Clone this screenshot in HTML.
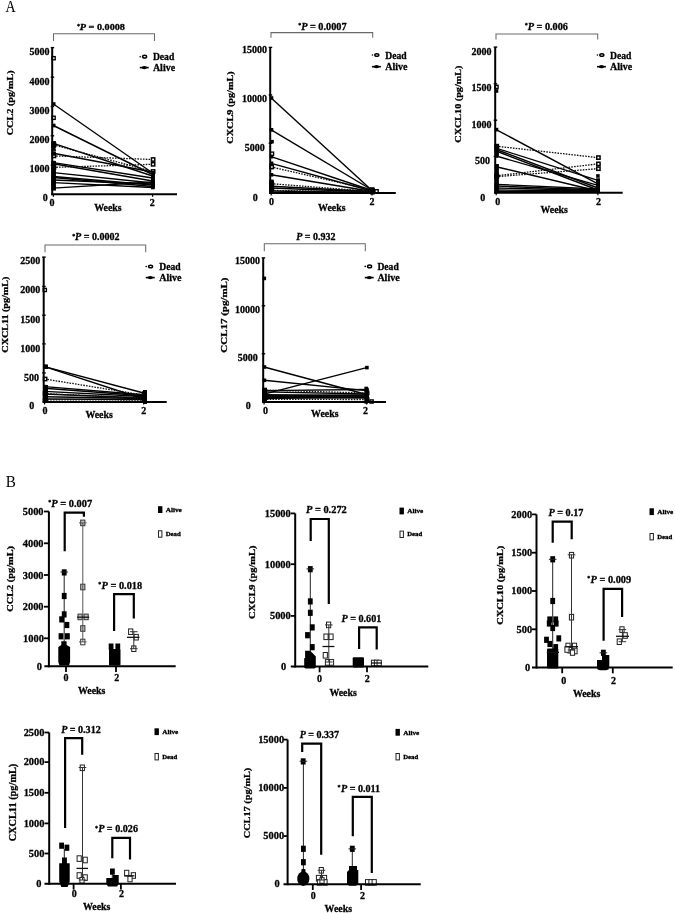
<!DOCTYPE html>
<html><head><meta charset="utf-8"><title>Figure</title>
<style>html,body{margin:0;padding:0;background:#fff;width:675px;height:913px;overflow:hidden;} svg text{font-family:'Liberation Serif',serif;} svg text[font-weight=bold]{stroke:#000;stroke-width:0.28px;}</style>
</head><body>
<svg width="675" height="913" viewBox="0 0 675 913" style="display:block;filter:grayscale(1) blur(0.3px);">
<rect width="675" height="913" fill="#fff"/>
<text x="5.6" y="11.8" font-size="15.69" font-weight="normal" font-style="normal" fill="#000" textLength="10.16" lengthAdjust="spacingAndGlyphs">A</text>
<text x="5.82" y="486.8" font-size="16.77" font-weight="normal" font-style="normal" fill="#000" textLength="10.12" lengthAdjust="spacingAndGlyphs">B</text>
<line x1="53.4" y1="104" x2="152.6" y2="173" stroke="#000" stroke-width="1.4" stroke-linecap="butt"/>
<line x1="53.4" y1="125.5" x2="152.6" y2="174.5" stroke="#000" stroke-width="1.4" stroke-linecap="butt"/>
<line x1="53.4" y1="143.3" x2="152.6" y2="176" stroke="#000" stroke-width="1.4" stroke-linecap="butt"/>
<line x1="53.4" y1="153.3" x2="152.6" y2="172" stroke="#000" stroke-width="1.4" stroke-linecap="butt"/>
<line x1="53.4" y1="162.6" x2="152.6" y2="178" stroke="#000" stroke-width="1.4" stroke-linecap="butt"/>
<line x1="53.4" y1="163.7" x2="152.6" y2="181" stroke="#000" stroke-width="1.4" stroke-linecap="butt"/>
<line x1="53.4" y1="172.6" x2="152.6" y2="183" stroke="#000" stroke-width="1.4" stroke-linecap="butt"/>
<line x1="53.4" y1="176.5" x2="152.6" y2="185" stroke="#000" stroke-width="1.4" stroke-linecap="butt"/>
<line x1="53.4" y1="177.5" x2="152.6" y2="186.5" stroke="#000" stroke-width="1.4" stroke-linecap="butt"/>
<line x1="53.4" y1="180" x2="152.6" y2="184" stroke="#000" stroke-width="1.4" stroke-linecap="butt"/>
<line x1="53.4" y1="182.6" x2="152.6" y2="187.5" stroke="#000" stroke-width="1.4" stroke-linecap="butt"/>
<line x1="53.4" y1="188.1" x2="152.6" y2="182" stroke="#000" stroke-width="1.4" stroke-linecap="butt"/>
<line x1="53.4" y1="144.8" x2="152.6" y2="171.5" stroke="#111" stroke-width="1.3" stroke-dasharray="1.6,1.2" stroke-linecap="butt"/>
<line x1="53.4" y1="155.9" x2="152.6" y2="159.5" stroke="#111" stroke-width="1.3" stroke-dasharray="1.6,1.2" stroke-linecap="butt"/>
<line x1="53.4" y1="167.4" x2="152.6" y2="164.3" stroke="#111" stroke-width="1.3" stroke-dasharray="1.6,1.2" stroke-linecap="butt"/>
<rect x="51.9" y="102.2" width="3.6" height="3.6" fill="#000"/>
<rect x="151.1" y="171.2" width="3.6" height="3.6" fill="#000"/>
<rect x="51.9" y="123.7" width="3.6" height="3.6" fill="#000"/>
<rect x="151.1" y="172.7" width="3.6" height="3.6" fill="#000"/>
<rect x="51.9" y="141.5" width="3.6" height="3.6" fill="#000"/>
<rect x="151.1" y="174.2" width="3.6" height="3.6" fill="#000"/>
<rect x="51.9" y="151.5" width="3.6" height="3.6" fill="#000"/>
<rect x="151.1" y="170.2" width="3.6" height="3.6" fill="#000"/>
<rect x="51.9" y="160.8" width="3.6" height="3.6" fill="#000"/>
<rect x="151.1" y="176.2" width="3.6" height="3.6" fill="#000"/>
<rect x="51.9" y="161.9" width="3.6" height="3.6" fill="#000"/>
<rect x="151.1" y="179.2" width="3.6" height="3.6" fill="#000"/>
<rect x="51.9" y="170.8" width="3.6" height="3.6" fill="#000"/>
<rect x="151.1" y="181.2" width="3.6" height="3.6" fill="#000"/>
<rect x="51.9" y="174.7" width="3.6" height="3.6" fill="#000"/>
<rect x="151.1" y="183.2" width="3.6" height="3.6" fill="#000"/>
<rect x="51.9" y="175.7" width="3.6" height="3.6" fill="#000"/>
<rect x="151.1" y="184.7" width="3.6" height="3.6" fill="#000"/>
<rect x="51.9" y="178.2" width="3.6" height="3.6" fill="#000"/>
<rect x="151.1" y="182.2" width="3.6" height="3.6" fill="#000"/>
<rect x="51.9" y="180.8" width="3.6" height="3.6" fill="#000"/>
<rect x="151.1" y="185.7" width="3.6" height="3.6" fill="#000"/>
<rect x="51.9" y="186.3" width="3.6" height="3.6" fill="#000"/>
<rect x="151.1" y="180.2" width="3.6" height="3.6" fill="#000"/>
<rect x="52.25" y="143.15" width="3.3" height="3.3" fill="#fff" stroke="#000" stroke-width="1.5"/>
<rect x="151.45" y="169.85" width="3.3" height="3.3" fill="#fff" stroke="#000" stroke-width="1.5"/>
<rect x="52.25" y="154.25" width="3.3" height="3.3" fill="#fff" stroke="#000" stroke-width="1.5"/>
<rect x="151.45" y="157.85" width="3.3" height="3.3" fill="#fff" stroke="#000" stroke-width="1.5"/>
<rect x="52.25" y="165.75" width="3.3" height="3.3" fill="#fff" stroke="#000" stroke-width="1.5"/>
<rect x="151.45" y="162.65" width="3.3" height="3.3" fill="#fff" stroke="#000" stroke-width="1.5"/>
<rect x="52" y="56.6" width="3.2" height="3.2" fill="#fff" stroke="#000" stroke-width="1.35"/>
<rect x="52" y="116.2" width="3.2" height="3.2" fill="#fff" stroke="#000" stroke-width="1.35"/>
<rect x="51.8" y="146.2" width="3.6" height="3.6" fill="#000"/>
<rect x="51.8" y="183.2" width="3.6" height="3.6" fill="#000"/>
<rect x="51.3" y="141.1" width="4.6" height="7.1" fill="#000"/>
<rect x="51.3" y="149.2" width="4.6" height="1.7" fill="#000"/>
<rect x="51.3" y="151.6" width="4.6" height="4.1" fill="#000"/>
<rect x="51.3" y="161.1" width="4.6" height="29.5" fill="#000"/>
<rect x="151" y="171" width="3.7" height="17" fill="#000"/>
<line x1="52.2" y1="47.6" x2="52.2" y2="195.2" stroke="#000" stroke-width="2" stroke-linecap="butt"/>
<line x1="51.2" y1="194.2" x2="177" y2="194.2" stroke="#000" stroke-width="2" stroke-linecap="butt"/>
<line x1="50.7" y1="47.6" x2="54.2" y2="47.6" stroke="#000" stroke-width="1.4" stroke-linecap="butt"/>
<line x1="50.7" y1="77.2" x2="54.2" y2="77.2" stroke="#000" stroke-width="1.4" stroke-linecap="butt"/>
<line x1="50.7" y1="106.5" x2="54.2" y2="106.5" stroke="#000" stroke-width="1.4" stroke-linecap="butt"/>
<line x1="50.7" y1="135.8" x2="54.2" y2="135.8" stroke="#000" stroke-width="1.4" stroke-linecap="butt"/>
<line x1="50.7" y1="165.1" x2="54.2" y2="165.1" stroke="#000" stroke-width="1.4" stroke-linecap="butt"/>
<line x1="53.4" y1="194.2" x2="53.4" y2="196.7" stroke="#000" stroke-width="1.2" stroke-linecap="butt"/>
<line x1="152.6" y1="194.2" x2="152.6" y2="196.7" stroke="#000" stroke-width="1.2" stroke-linecap="butt"/>
<text x="29.45" y="55.05" font-size="10" font-weight="bold" font-style="normal" fill="#000">5000</text>
<text x="29.45" y="84.55" font-size="10" font-weight="bold" font-style="normal" fill="#000">4000</text>
<text x="29.45" y="114.05" font-size="10" font-weight="bold" font-style="normal" fill="#000">3000</text>
<text x="29.45" y="143.12" font-size="10" font-weight="bold" font-style="normal" fill="#000">2000</text>
<text x="29.45" y="172.15" font-size="10" font-weight="bold" font-style="normal" fill="#000">1000</text>
<text x="42.65" y="201.12" font-size="10" font-weight="bold" font-style="normal" fill="#000">0</text>
<text x="49.4" y="205.82" font-size="10" font-weight="bold" font-style="normal" fill="#000">0</text>
<text x="149.8" y="206.12" font-size="10" font-weight="bold" font-style="normal" fill="#000">2</text>
<text x="94.2" y="211.47" font-size="10" font-weight="bold" font-style="normal" fill="#000" textLength="27.43" lengthAdjust="spacingAndGlyphs">Weeks</text>
<text x="0" y="0" font-size="8.31" font-weight="bold" font-style="normal" fill="#000" textLength="64.93" lengthAdjust="spacingAndGlyphs" transform="translate(13.32,135.26) rotate(-90)">CCL2 (pg/mL)</text>
<polyline points="53.5,40.9 53.5,33.7 154.5,33.7 154.5,40.9" fill="none" stroke="#6a6a6a" stroke-width="1.05" stroke-linejoin="miter"/>
<text x="79.85" y="30.28" font-size="8.86" font-weight="bold" font-style="normal" fill="#000" textLength="45.11" lengthAdjust="spacingAndGlyphs"><tspan font-style="italic">P</tspan> = 0.0008</text>
<text x="77.05" y="27.97" font-size="6" font-weight="bold" font-style="normal" fill="#000">*</text>
<circle cx="140.2" cy="56.7" r="0.8" fill="#000"/>
<ellipse cx="144.6" cy="56.7" rx="2.0" ry="1.35" fill="#fff" stroke="#000" stroke-width="1.5"/>
<line x1="139.8" y1="67.6" x2="148.7" y2="67.6" stroke="#000" stroke-width="1.6" stroke-linecap="butt"/>
<ellipse cx="144.3" cy="67.6" rx="2.6" ry="1.6" fill="#000"/>
<text x="152.9" y="60.2" font-size="10" font-weight="bold" font-style="normal" fill="#000" textLength="21.37" lengthAdjust="spacingAndGlyphs">Dead</text>
<text x="152.9" y="71.1" font-size="10" font-weight="bold" font-style="normal" fill="#000" textLength="22.22" lengthAdjust="spacingAndGlyphs">Alive</text>
<line x1="271.2" y1="98" x2="372" y2="190.5" stroke="#000" stroke-width="1.4" stroke-linecap="butt"/>
<line x1="271.2" y1="129.8" x2="372" y2="190" stroke="#000" stroke-width="1.4" stroke-linecap="butt"/>
<line x1="271.2" y1="156.7" x2="372" y2="190.5" stroke="#000" stroke-width="1.4" stroke-linecap="butt"/>
<line x1="271.2" y1="163.3" x2="372" y2="191" stroke="#000" stroke-width="1.4" stroke-linecap="butt"/>
<line x1="271.2" y1="174.8" x2="372" y2="191.5" stroke="#000" stroke-width="1.4" stroke-linecap="butt"/>
<line x1="271.2" y1="186.3" x2="372" y2="191.5" stroke="#000" stroke-width="1.4" stroke-linecap="butt"/>
<line x1="271.2" y1="188" x2="372" y2="192" stroke="#000" stroke-width="1.4" stroke-linecap="butt"/>
<line x1="271.2" y1="191" x2="372" y2="192.5" stroke="#000" stroke-width="1.4" stroke-linecap="butt"/>
<line x1="271.2" y1="167" x2="372" y2="190" stroke="#111" stroke-width="1.3" stroke-dasharray="1.6,1.2" stroke-linecap="butt"/>
<line x1="271.2" y1="183.7" x2="372" y2="191.5" stroke="#111" stroke-width="1.3" stroke-dasharray="1.6,1.2" stroke-linecap="butt"/>
<line x1="271.2" y1="190.4" x2="372" y2="192" stroke="#111" stroke-width="1.3" stroke-dasharray="1.6,1.2" stroke-linecap="butt"/>
<rect x="269.7" y="96.2" width="3.6" height="3.6" fill="#000"/>
<rect x="370.5" y="188.7" width="3.6" height="3.6" fill="#000"/>
<rect x="269.7" y="128" width="3.6" height="3.6" fill="#000"/>
<rect x="370.5" y="188.2" width="3.6" height="3.6" fill="#000"/>
<rect x="269.7" y="154.9" width="3.6" height="3.6" fill="#000"/>
<rect x="370.5" y="188.7" width="3.6" height="3.6" fill="#000"/>
<rect x="269.7" y="161.5" width="3.6" height="3.6" fill="#000"/>
<rect x="370.5" y="189.2" width="3.6" height="3.6" fill="#000"/>
<rect x="269.7" y="173" width="3.6" height="3.6" fill="#000"/>
<rect x="370.5" y="189.7" width="3.6" height="3.6" fill="#000"/>
<rect x="269.7" y="184.5" width="3.6" height="3.6" fill="#000"/>
<rect x="370.5" y="189.7" width="3.6" height="3.6" fill="#000"/>
<rect x="269.7" y="186.2" width="3.6" height="3.6" fill="#000"/>
<rect x="370.5" y="190.2" width="3.6" height="3.6" fill="#000"/>
<rect x="269.7" y="189.2" width="3.6" height="3.6" fill="#000"/>
<rect x="370.5" y="190.7" width="3.6" height="3.6" fill="#000"/>
<rect x="270.05" y="165.35" width="3.3" height="3.3" fill="#fff" stroke="#000" stroke-width="1.5"/>
<rect x="370.85" y="188.35" width="3.3" height="3.3" fill="#fff" stroke="#000" stroke-width="1.5"/>
<rect x="270.05" y="182.05" width="3.3" height="3.3" fill="#fff" stroke="#000" stroke-width="1.5"/>
<rect x="370.85" y="189.85" width="3.3" height="3.3" fill="#fff" stroke="#000" stroke-width="1.5"/>
<rect x="270.05" y="188.75" width="3.3" height="3.3" fill="#fff" stroke="#000" stroke-width="1.5"/>
<rect x="370.85" y="190.35" width="3.3" height="3.3" fill="#fff" stroke="#000" stroke-width="1.5"/>
<rect x="270.2" y="139.9" width="3.6" height="3.6" fill="#000"/>
<rect x="270.4" y="152.1" width="3.2" height="3.2" fill="#fff" stroke="#000" stroke-width="1.35"/>
<rect x="375" y="189.7" width="3.2" height="3.2" fill="#fff" stroke="#000" stroke-width="1.35"/>
<rect x="269.3" y="179.6" width="4.5" height="13.4" fill="#000"/>
<rect x="369.8" y="187.3" width="4.2" height="5.6" fill="#000"/>
<line x1="270.2" y1="47.4" x2="270.2" y2="194" stroke="#000" stroke-width="2" stroke-linecap="butt"/>
<line x1="269.2" y1="193" x2="395.8" y2="193" stroke="#000" stroke-width="2" stroke-linecap="butt"/>
<line x1="268.7" y1="47.4" x2="272.2" y2="47.4" stroke="#000" stroke-width="1.4" stroke-linecap="butt"/>
<line x1="268.7" y1="95" x2="272.2" y2="95" stroke="#000" stroke-width="1.4" stroke-linecap="butt"/>
<line x1="268.7" y1="143.3" x2="272.2" y2="143.3" stroke="#000" stroke-width="1.4" stroke-linecap="butt"/>
<line x1="271.2" y1="193" x2="271.2" y2="195.5" stroke="#000" stroke-width="1.2" stroke-linecap="butt"/>
<line x1="372" y1="193" x2="372" y2="195.5" stroke="#000" stroke-width="1.2" stroke-linecap="butt"/>
<text x="241.95" y="52.95" font-size="10" font-weight="bold" font-style="normal" fill="#000">15000</text>
<text x="241.95" y="102.45" font-size="10" font-weight="bold" font-style="normal" fill="#000">10000</text>
<text x="244.75" y="151.25" font-size="10" font-weight="bold" font-style="normal" fill="#000">5000</text>
<text x="252.65" y="200.72" font-size="10" font-weight="bold" font-style="normal" fill="#000">0</text>
<text x="269.1" y="204.72" font-size="10" font-weight="bold" font-style="normal" fill="#000">0</text>
<text x="369.6" y="204.62" font-size="10" font-weight="bold" font-style="normal" fill="#000">2</text>
<text x="318.1" y="211.07" font-size="10" font-weight="bold" font-style="normal" fill="#000" textLength="27.43" lengthAdjust="spacingAndGlyphs">Weeks</text>
<text x="0" y="0" font-size="8.51" font-weight="bold" font-style="normal" fill="#000" textLength="72.3" lengthAdjust="spacingAndGlyphs" transform="translate(232.87,143.66) rotate(-90)">CXCL9 (pg/mL)</text>
<polyline points="271,37.8 271,32.6 372.7,32.6 372.7,37.8" fill="none" stroke="#6a6a6a" stroke-width="1.05" stroke-linejoin="miter"/>
<text x="301.16" y="29.75" font-size="9.86" font-weight="bold" font-style="normal" fill="#000" textLength="45.4" lengthAdjust="spacingAndGlyphs"><tspan font-style="italic">P</tspan> = 0.0007</text>
<text x="298.15" y="26.77" font-size="6" font-weight="bold" font-style="normal" fill="#000">*</text>
<circle cx="372.4" cy="55" r="0.8" fill="#000"/>
<ellipse cx="376.8" cy="55" rx="2.0" ry="1.35" fill="#fff" stroke="#000" stroke-width="1.5"/>
<line x1="372" y1="66.7" x2="380.9" y2="66.7" stroke="#000" stroke-width="1.6" stroke-linecap="butt"/>
<ellipse cx="376.5" cy="66.7" rx="2.6" ry="1.6" fill="#000"/>
<text x="385.2" y="58.5" font-size="10" font-weight="bold" font-style="normal" fill="#000" textLength="21.37" lengthAdjust="spacingAndGlyphs">Dead</text>
<text x="385.2" y="70.2" font-size="10" font-weight="bold" font-style="normal" fill="#000" textLength="22.22" lengthAdjust="spacingAndGlyphs">Alive</text>
<line x1="496.2" y1="129.6" x2="597.9" y2="183.8" stroke="#000" stroke-width="1.4" stroke-linecap="butt"/>
<line x1="496.2" y1="148.2" x2="597.9" y2="180.4" stroke="#000" stroke-width="1.4" stroke-linecap="butt"/>
<line x1="496.2" y1="149.5" x2="597.9" y2="188" stroke="#000" stroke-width="1.4" stroke-linecap="butt"/>
<line x1="496.2" y1="151" x2="597.9" y2="190" stroke="#000" stroke-width="1.4" stroke-linecap="butt"/>
<line x1="496.2" y1="156" x2="597.9" y2="185.3" stroke="#000" stroke-width="1.4" stroke-linecap="butt"/>
<line x1="496.2" y1="166.7" x2="597.9" y2="191" stroke="#000" stroke-width="1.4" stroke-linecap="butt"/>
<line x1="496.2" y1="184.4" x2="597.9" y2="189" stroke="#000" stroke-width="1.4" stroke-linecap="butt"/>
<line x1="496.2" y1="186" x2="597.9" y2="190" stroke="#000" stroke-width="1.4" stroke-linecap="butt"/>
<line x1="496.2" y1="188" x2="597.9" y2="190.5" stroke="#000" stroke-width="1.4" stroke-linecap="butt"/>
<line x1="496.2" y1="190" x2="597.9" y2="191" stroke="#000" stroke-width="1.4" stroke-linecap="butt"/>
<line x1="496.2" y1="191.5" x2="597.9" y2="191.5" stroke="#000" stroke-width="1.4" stroke-linecap="butt"/>
<line x1="496.2" y1="146.2" x2="597.9" y2="157.6" stroke="#111" stroke-width="1.3" stroke-dasharray="1.6,1.2" stroke-linecap="butt"/>
<line x1="496.2" y1="175.8" x2="597.9" y2="163.9" stroke="#111" stroke-width="1.3" stroke-dasharray="1.6,1.2" stroke-linecap="butt"/>
<line x1="496.2" y1="176.7" x2="597.9" y2="168.7" stroke="#111" stroke-width="1.3" stroke-dasharray="1.6,1.2" stroke-linecap="butt"/>
<rect x="494.7" y="127.8" width="3.6" height="3.6" fill="#000"/>
<rect x="596.4" y="182" width="3.6" height="3.6" fill="#000"/>
<rect x="494.7" y="146.4" width="3.6" height="3.6" fill="#000"/>
<rect x="596.4" y="178.6" width="3.6" height="3.6" fill="#000"/>
<rect x="494.7" y="147.7" width="3.6" height="3.6" fill="#000"/>
<rect x="596.4" y="186.2" width="3.6" height="3.6" fill="#000"/>
<rect x="494.7" y="149.2" width="3.6" height="3.6" fill="#000"/>
<rect x="596.4" y="188.2" width="3.6" height="3.6" fill="#000"/>
<rect x="494.7" y="154.2" width="3.6" height="3.6" fill="#000"/>
<rect x="596.4" y="183.5" width="3.6" height="3.6" fill="#000"/>
<rect x="494.7" y="164.9" width="3.6" height="3.6" fill="#000"/>
<rect x="596.4" y="189.2" width="3.6" height="3.6" fill="#000"/>
<rect x="494.7" y="182.6" width="3.6" height="3.6" fill="#000"/>
<rect x="596.4" y="187.2" width="3.6" height="3.6" fill="#000"/>
<rect x="494.7" y="184.2" width="3.6" height="3.6" fill="#000"/>
<rect x="596.4" y="188.2" width="3.6" height="3.6" fill="#000"/>
<rect x="494.7" y="186.2" width="3.6" height="3.6" fill="#000"/>
<rect x="596.4" y="188.7" width="3.6" height="3.6" fill="#000"/>
<rect x="494.7" y="188.2" width="3.6" height="3.6" fill="#000"/>
<rect x="596.4" y="189.2" width="3.6" height="3.6" fill="#000"/>
<rect x="494.7" y="189.7" width="3.6" height="3.6" fill="#000"/>
<rect x="596.4" y="189.7" width="3.6" height="3.6" fill="#000"/>
<rect x="495.05" y="144.55" width="3.3" height="3.3" fill="#fff" stroke="#000" stroke-width="1.5"/>
<rect x="596.75" y="155.95" width="3.3" height="3.3" fill="#fff" stroke="#000" stroke-width="1.5"/>
<rect x="495.05" y="174.15" width="3.3" height="3.3" fill="#fff" stroke="#000" stroke-width="1.5"/>
<rect x="596.75" y="162.25" width="3.3" height="3.3" fill="#fff" stroke="#000" stroke-width="1.5"/>
<rect x="495.05" y="175.05" width="3.3" height="3.3" fill="#fff" stroke="#000" stroke-width="1.5"/>
<rect x="596.75" y="167.05" width="3.3" height="3.3" fill="#fff" stroke="#000" stroke-width="1.5"/>
<rect x="494.9" y="85.3" width="3.2" height="3.2" fill="#fff" stroke="#000" stroke-width="1.35"/>
<rect x="494.7" y="89.2" width="3.6" height="3.6" fill="#000"/>
<rect x="596.1" y="174.2" width="3.6" height="3.6" fill="#000"/>
<rect x="494.9" y="144.4" width="4" height="12.5" fill="#000"/>
<rect x="494.9" y="164" width="4" height="29" fill="#000"/>
<rect x="596" y="178.5" width="4" height="4" fill="#000"/>
<rect x="596" y="183.5" width="4" height="9.5" fill="#000"/>
<line x1="495.2" y1="47.1" x2="495.2" y2="193.7" stroke="#000" stroke-width="2" stroke-linecap="butt"/>
<line x1="494.2" y1="192.7" x2="622.7" y2="192.7" stroke="#000" stroke-width="2" stroke-linecap="butt"/>
<line x1="493.7" y1="47.1" x2="497.2" y2="47.1" stroke="#000" stroke-width="1.4" stroke-linecap="butt"/>
<line x1="493.7" y1="83.8" x2="497.2" y2="83.8" stroke="#000" stroke-width="1.4" stroke-linecap="butt"/>
<line x1="493.7" y1="120.2" x2="497.2" y2="120.2" stroke="#000" stroke-width="1.4" stroke-linecap="butt"/>
<line x1="493.7" y1="156.5" x2="497.2" y2="156.5" stroke="#000" stroke-width="1.4" stroke-linecap="butt"/>
<line x1="496.2" y1="192.7" x2="496.2" y2="195.2" stroke="#000" stroke-width="1.2" stroke-linecap="butt"/>
<line x1="597.9" y1="192.7" x2="597.9" y2="195.2" stroke="#000" stroke-width="1.2" stroke-linecap="butt"/>
<text x="471.55" y="54.62" font-size="10" font-weight="bold" font-style="normal" fill="#000">2000</text>
<text x="471.55" y="91.25" font-size="10" font-weight="bold" font-style="normal" fill="#000">1500</text>
<text x="471.55" y="127.95" font-size="10" font-weight="bold" font-style="normal" fill="#000">1000</text>
<text x="475.05" y="163.95" font-size="10" font-weight="bold" font-style="normal" fill="#000">500</text>
<text x="480.35" y="200.53" font-size="10" font-weight="bold" font-style="normal" fill="#000">0</text>
<text x="495.3" y="204.72" font-size="10" font-weight="bold" font-style="normal" fill="#000">0</text>
<text x="595.9" y="204.72" font-size="10" font-weight="bold" font-style="normal" fill="#000">2</text>
<text x="540.5" y="212.78" font-size="10" font-weight="bold" font-style="normal" fill="#000" textLength="27.43" lengthAdjust="spacingAndGlyphs">Weeks</text>
<text x="0" y="0" font-size="8.62" font-weight="bold" font-style="normal" fill="#000" textLength="76.99" lengthAdjust="spacingAndGlyphs" transform="translate(460.65,142.65) rotate(-90)">CXCL10 (pg/mL)</text>
<polyline points="496,39.5 496,33.9 597.7,33.9 597.7,39.5" fill="none" stroke="#6a6a6a" stroke-width="1.05" stroke-linejoin="miter"/>
<text x="527.66" y="29.76" font-size="9.57" font-weight="bold" font-style="normal" fill="#000" textLength="40.3" lengthAdjust="spacingAndGlyphs"><tspan font-style="italic">P</tspan> = 0.006</text>
<text x="524.75" y="26.97" font-size="6" font-weight="bold" font-style="normal" fill="#000">*</text>
<circle cx="597.4" cy="55" r="0.8" fill="#000"/>
<ellipse cx="601.8" cy="55" rx="2.0" ry="1.35" fill="#fff" stroke="#000" stroke-width="1.5"/>
<line x1="597" y1="66.7" x2="605.9" y2="66.7" stroke="#000" stroke-width="1.6" stroke-linecap="butt"/>
<ellipse cx="601.5" cy="66.7" rx="2.6" ry="1.6" fill="#000"/>
<text x="610" y="58.5" font-size="10" font-weight="bold" font-style="normal" fill="#000" textLength="21.37" lengthAdjust="spacingAndGlyphs">Dead</text>
<text x="610" y="70.2" font-size="10" font-weight="bold" font-style="normal" fill="#000" textLength="22.22" lengthAdjust="spacingAndGlyphs">Alive</text>
<line x1="44.6" y1="366.6" x2="143.6" y2="393" stroke="#000" stroke-width="1.4" stroke-linecap="butt"/>
<line x1="44.6" y1="366.6" x2="143.6" y2="399" stroke="#000" stroke-width="1.4" stroke-linecap="butt"/>
<line x1="44.6" y1="386.6" x2="143.6" y2="394.8" stroke="#000" stroke-width="1.4" stroke-linecap="butt"/>
<line x1="44.6" y1="388.3" x2="143.6" y2="395.8" stroke="#000" stroke-width="1.4" stroke-linecap="butt"/>
<line x1="44.6" y1="391.4" x2="143.6" y2="396.5" stroke="#000" stroke-width="1.4" stroke-linecap="butt"/>
<line x1="44.6" y1="394" x2="143.6" y2="398" stroke="#000" stroke-width="1.4" stroke-linecap="butt"/>
<line x1="44.6" y1="396.8" x2="143.6" y2="398.5" stroke="#000" stroke-width="1.4" stroke-linecap="butt"/>
<line x1="44.6" y1="399" x2="143.6" y2="399.5" stroke="#000" stroke-width="1.4" stroke-linecap="butt"/>
<line x1="44.6" y1="379" x2="143.6" y2="395" stroke="#111" stroke-width="1.3" stroke-dasharray="1.6,1.2" stroke-linecap="butt"/>
<line x1="44.6" y1="393.7" x2="143.6" y2="398" stroke="#111" stroke-width="1.3" stroke-dasharray="1.6,1.2" stroke-linecap="butt"/>
<line x1="44.6" y1="399.9" x2="143.6" y2="400" stroke="#111" stroke-width="1.3" stroke-dasharray="1.6,1.2" stroke-linecap="butt"/>
<rect x="43.1" y="364.8" width="3.6" height="3.6" fill="#000"/>
<rect x="142.1" y="391.2" width="3.6" height="3.6" fill="#000"/>
<rect x="43.1" y="364.8" width="3.6" height="3.6" fill="#000"/>
<rect x="142.1" y="397.2" width="3.6" height="3.6" fill="#000"/>
<rect x="43.1" y="384.8" width="3.6" height="3.6" fill="#000"/>
<rect x="142.1" y="393" width="3.6" height="3.6" fill="#000"/>
<rect x="43.1" y="386.5" width="3.6" height="3.6" fill="#000"/>
<rect x="142.1" y="394" width="3.6" height="3.6" fill="#000"/>
<rect x="43.1" y="389.6" width="3.6" height="3.6" fill="#000"/>
<rect x="142.1" y="394.7" width="3.6" height="3.6" fill="#000"/>
<rect x="43.1" y="392.2" width="3.6" height="3.6" fill="#000"/>
<rect x="142.1" y="396.2" width="3.6" height="3.6" fill="#000"/>
<rect x="43.1" y="395" width="3.6" height="3.6" fill="#000"/>
<rect x="142.1" y="396.7" width="3.6" height="3.6" fill="#000"/>
<rect x="43.1" y="397.2" width="3.6" height="3.6" fill="#000"/>
<rect x="142.1" y="397.7" width="3.6" height="3.6" fill="#000"/>
<rect x="43.45" y="377.35" width="3.3" height="3.3" fill="#fff" stroke="#000" stroke-width="1.5"/>
<rect x="142.45" y="393.35" width="3.3" height="3.3" fill="#fff" stroke="#000" stroke-width="1.5"/>
<rect x="43.45" y="392.05" width="3.3" height="3.3" fill="#fff" stroke="#000" stroke-width="1.5"/>
<rect x="142.45" y="396.35" width="3.3" height="3.3" fill="#fff" stroke="#000" stroke-width="1.5"/>
<rect x="43.45" y="398.25" width="3.3" height="3.3" fill="#fff" stroke="#000" stroke-width="1.5"/>
<rect x="142.45" y="398.35" width="3.3" height="3.3" fill="#fff" stroke="#000" stroke-width="1.5"/>
<rect x="43.2" y="288.4" width="3.2" height="3.2" fill="#fff" stroke="#000" stroke-width="1.35"/>
<rect x="43.5" y="364.5" width="4.5" height="4.5" fill="#000"/>
<rect x="43.5" y="385" width="4.5" height="17" fill="#000"/>
<rect x="143" y="390" width="4" height="14" fill="#000"/>
<line x1="43.7" y1="257.1" x2="43.7" y2="403.1" stroke="#000" stroke-width="2" stroke-linecap="butt"/>
<line x1="42.7" y1="402.1" x2="166.7" y2="402.1" stroke="#000" stroke-width="2" stroke-linecap="butt"/>
<line x1="42.2" y1="257.1" x2="45.7" y2="257.1" stroke="#000" stroke-width="1.4" stroke-linecap="butt"/>
<line x1="42.2" y1="286.4" x2="45.7" y2="286.4" stroke="#000" stroke-width="1.4" stroke-linecap="butt"/>
<line x1="42.2" y1="315.2" x2="45.7" y2="315.2" stroke="#000" stroke-width="1.4" stroke-linecap="butt"/>
<line x1="42.2" y1="343.9" x2="45.7" y2="343.9" stroke="#000" stroke-width="1.4" stroke-linecap="butt"/>
<line x1="42.2" y1="372.9" x2="45.7" y2="372.9" stroke="#000" stroke-width="1.4" stroke-linecap="butt"/>
<line x1="44.6" y1="402.1" x2="44.6" y2="404.6" stroke="#000" stroke-width="1.2" stroke-linecap="butt"/>
<line x1="143.6" y1="402.1" x2="143.6" y2="404.6" stroke="#000" stroke-width="1.2" stroke-linecap="butt"/>
<text x="20.25" y="264.45" font-size="10" font-weight="bold" font-style="normal" fill="#000">2500</text>
<text x="20.25" y="293.12" font-size="10" font-weight="bold" font-style="normal" fill="#000">2000</text>
<text x="20.25" y="322.55" font-size="10" font-weight="bold" font-style="normal" fill="#000">1500</text>
<text x="20.25" y="351.55" font-size="10" font-weight="bold" font-style="normal" fill="#000">1000</text>
<text x="23.95" y="381.35" font-size="10" font-weight="bold" font-style="normal" fill="#000">500</text>
<text x="29.35" y="409.12" font-size="10" font-weight="bold" font-style="normal" fill="#000">0</text>
<text x="42.6" y="413.73" font-size="10" font-weight="bold" font-style="normal" fill="#000">0</text>
<text x="141.3" y="413.73" font-size="10" font-weight="bold" font-style="normal" fill="#000">2</text>
<text x="85.4" y="418.38" font-size="10" font-weight="bold" font-style="normal" fill="#000" textLength="27.43" lengthAdjust="spacingAndGlyphs">Weeks</text>
<text x="0" y="0" font-size="8.21" font-weight="bold" font-style="normal" fill="#000" textLength="75.94" lengthAdjust="spacingAndGlyphs" transform="translate(8.15,352.65) rotate(-90)">CXCL11 (pg/mL)</text>
<polyline points="45,252.3 45,244.9 145.7,244.9 145.7,252.3" fill="none" stroke="#6a6a6a" stroke-width="1.05" stroke-linejoin="miter"/>
<text x="75.05" y="240.17" font-size="9.29" font-weight="bold" font-style="normal" fill="#000" textLength="44.46" lengthAdjust="spacingAndGlyphs"><tspan font-style="italic">P</tspan> = 0.0002</text>
<text x="72.25" y="237.58" font-size="6" font-weight="bold" font-style="normal" fill="#000">*</text>
<circle cx="146.2" cy="266.5" r="0.8" fill="#000"/>
<ellipse cx="150.6" cy="266.5" rx="2.0" ry="1.35" fill="#fff" stroke="#000" stroke-width="1.5"/>
<line x1="145.8" y1="277.6" x2="154.7" y2="277.6" stroke="#000" stroke-width="1.6" stroke-linecap="butt"/>
<ellipse cx="150.3" cy="277.6" rx="2.6" ry="1.6" fill="#000"/>
<text x="159.3" y="270" font-size="10" font-weight="bold" font-style="normal" fill="#000" textLength="21.37" lengthAdjust="spacingAndGlyphs">Dead</text>
<text x="159.3" y="281.1" font-size="10" font-weight="bold" font-style="normal" fill="#000" textLength="22.22" lengthAdjust="spacingAndGlyphs">Alive</text>
<line x1="264.1" y1="367" x2="366.6" y2="394.5" stroke="#000" stroke-width="1.4" stroke-linecap="butt"/>
<line x1="264.1" y1="380.3" x2="366.6" y2="390.6" stroke="#000" stroke-width="1.4" stroke-linecap="butt"/>
<line x1="264.1" y1="394.1" x2="366.6" y2="367.6" stroke="#000" stroke-width="1.4" stroke-linecap="butt"/>
<line x1="264.1" y1="390.6" x2="366.6" y2="389.5" stroke="#000" stroke-width="1.4" stroke-linecap="butt"/>
<line x1="264.1" y1="391.9" x2="366.6" y2="394" stroke="#000" stroke-width="1.4" stroke-linecap="butt"/>
<line x1="264.1" y1="394.6" x2="366.6" y2="396" stroke="#000" stroke-width="1.4" stroke-linecap="butt"/>
<line x1="264.1" y1="395.5" x2="366.6" y2="395" stroke="#000" stroke-width="1.4" stroke-linecap="butt"/>
<line x1="264.1" y1="396.5" x2="366.6" y2="397" stroke="#000" stroke-width="1.4" stroke-linecap="butt"/>
<line x1="264.1" y1="397.5" x2="366.6" y2="398" stroke="#000" stroke-width="1.4" stroke-linecap="butt"/>
<line x1="264.1" y1="398.5" x2="366.6" y2="397" stroke="#000" stroke-width="1.4" stroke-linecap="butt"/>
<line x1="264.1" y1="390.1" x2="366.6" y2="393" stroke="#111" stroke-width="1.3" stroke-dasharray="1.6,1.2" stroke-linecap="butt"/>
<line x1="264.1" y1="399.4" x2="366.6" y2="399.5" stroke="#111" stroke-width="1.3" stroke-dasharray="1.6,1.2" stroke-linecap="butt"/>
<rect x="262.6" y="365.2" width="3.6" height="3.6" fill="#000"/>
<rect x="365.1" y="392.7" width="3.6" height="3.6" fill="#000"/>
<rect x="262.6" y="378.5" width="3.6" height="3.6" fill="#000"/>
<rect x="365.1" y="388.8" width="3.6" height="3.6" fill="#000"/>
<rect x="262.6" y="392.3" width="3.6" height="3.6" fill="#000"/>
<rect x="365.1" y="365.8" width="3.6" height="3.6" fill="#000"/>
<rect x="262.6" y="388.8" width="3.6" height="3.6" fill="#000"/>
<rect x="365.1" y="387.7" width="3.6" height="3.6" fill="#000"/>
<rect x="262.6" y="390.1" width="3.6" height="3.6" fill="#000"/>
<rect x="365.1" y="392.2" width="3.6" height="3.6" fill="#000"/>
<rect x="262.6" y="392.8" width="3.6" height="3.6" fill="#000"/>
<rect x="365.1" y="394.2" width="3.6" height="3.6" fill="#000"/>
<rect x="262.6" y="393.7" width="3.6" height="3.6" fill="#000"/>
<rect x="365.1" y="393.2" width="3.6" height="3.6" fill="#000"/>
<rect x="262.6" y="394.7" width="3.6" height="3.6" fill="#000"/>
<rect x="365.1" y="395.2" width="3.6" height="3.6" fill="#000"/>
<rect x="262.6" y="395.7" width="3.6" height="3.6" fill="#000"/>
<rect x="365.1" y="396.2" width="3.6" height="3.6" fill="#000"/>
<rect x="262.6" y="396.7" width="3.6" height="3.6" fill="#000"/>
<rect x="365.1" y="395.2" width="3.6" height="3.6" fill="#000"/>
<rect x="262.95" y="388.45" width="3.3" height="3.3" fill="#fff" stroke="#000" stroke-width="1.5"/>
<rect x="365.45" y="391.35" width="3.3" height="3.3" fill="#fff" stroke="#000" stroke-width="1.5"/>
<rect x="262.95" y="397.75" width="3.3" height="3.3" fill="#fff" stroke="#000" stroke-width="1.5"/>
<rect x="365.45" y="397.85" width="3.3" height="3.3" fill="#fff" stroke="#000" stroke-width="1.5"/>
<rect x="262.5" y="276.6" width="3.6" height="3.6" fill="#000"/>
<rect x="370" y="399.9" width="3.2" height="3.2" fill="#fff" stroke="#000" stroke-width="1.35"/>
<rect x="262" y="388" width="5" height="14" fill="#000"/>
<rect x="364.4" y="386.7" width="3.6" height="17" fill="#000"/>
<line x1="263.2" y1="257.9" x2="263.2" y2="403.1" stroke="#000" stroke-width="2" stroke-linecap="butt"/>
<line x1="262.2" y1="402.1" x2="386" y2="402.1" stroke="#000" stroke-width="2" stroke-linecap="butt"/>
<line x1="261.7" y1="257.9" x2="265.2" y2="257.9" stroke="#000" stroke-width="1.4" stroke-linecap="butt"/>
<line x1="261.7" y1="305.8" x2="265.2" y2="305.8" stroke="#000" stroke-width="1.4" stroke-linecap="butt"/>
<line x1="261.7" y1="353.8" x2="265.2" y2="353.8" stroke="#000" stroke-width="1.4" stroke-linecap="butt"/>
<line x1="264.1" y1="402.1" x2="264.1" y2="404.6" stroke="#000" stroke-width="1.2" stroke-linecap="butt"/>
<line x1="366.6" y1="402.1" x2="366.6" y2="404.6" stroke="#000" stroke-width="1.2" stroke-linecap="butt"/>
<text x="234.95" y="264.05" font-size="10" font-weight="bold" font-style="normal" fill="#000">15000</text>
<text x="234.95" y="312.85" font-size="10" font-weight="bold" font-style="normal" fill="#000">10000</text>
<text x="237.75" y="360.85" font-size="10" font-weight="bold" font-style="normal" fill="#000">5000</text>
<text x="245.65" y="408.62" font-size="10" font-weight="bold" font-style="normal" fill="#000">0</text>
<text x="263.1" y="414.12" font-size="10" font-weight="bold" font-style="normal" fill="#000">0</text>
<text x="363.1" y="414.12" font-size="10" font-weight="bold" font-style="normal" fill="#000">2</text>
<text x="311.1" y="417.07" font-size="10" font-weight="bold" font-style="normal" fill="#000" textLength="27.43" lengthAdjust="spacingAndGlyphs">Weeks</text>
<text x="0" y="0" font-size="8.62" font-weight="bold" font-style="normal" fill="#000" textLength="75.17" lengthAdjust="spacingAndGlyphs" transform="translate(226.85,352.67) rotate(-90)">CCL17 (pg/mL)</text>
<polyline points="264.3,251.3 264.3,243.7 365.3,243.7 365.3,251.3" fill="none" stroke="#6a6a6a" stroke-width="1.05" stroke-linejoin="miter"/>
<text x="296.25" y="240.36" font-size="9.57" font-weight="bold" font-style="normal" fill="#000" textLength="39.16" lengthAdjust="spacingAndGlyphs"><tspan font-style="italic">P</tspan> = 0.932</text>
<circle cx="365.2" cy="266.4" r="0.8" fill="#000"/>
<ellipse cx="369.6" cy="266.4" rx="2.0" ry="1.35" fill="#fff" stroke="#000" stroke-width="1.5"/>
<line x1="364.8" y1="277.6" x2="373.7" y2="277.6" stroke="#000" stroke-width="1.6" stroke-linecap="butt"/>
<ellipse cx="369.3" cy="277.6" rx="2.6" ry="1.6" fill="#000"/>
<text x="377.4" y="269.9" font-size="10" font-weight="bold" font-style="normal" fill="#000" textLength="21.37" lengthAdjust="spacingAndGlyphs">Dead</text>
<text x="377.4" y="281.1" font-size="10" font-weight="bold" font-style="normal" fill="#000" textLength="22.22" lengthAdjust="spacingAndGlyphs">Alive</text>
<line x1="64.2" y1="572" x2="64.2" y2="664" stroke="#222" stroke-width="1.0" stroke-linecap="butt"/>
<polygon points="61.3,641.3 66.6,641.3 66.6,645 70.1,647 70.1,662 69,665.6 59.5,665.6 58.3,662 58.3,647 61.3,645" fill="#000"/>
<rect x="61.8" y="569.3" width="4.8" height="6.2" fill="#000"/>
<rect x="61.8" y="592.9" width="4.8" height="6.2" fill="#000"/>
<rect x="61.8" y="611.3" width="4.8" height="6.2" fill="#000"/>
<rect x="59.2" y="616.3" width="4.8" height="6.2" fill="#000"/>
<rect x="64.5" y="621.9" width="4.8" height="6.2" fill="#000"/>
<rect x="58.6" y="633.2" width="4.8" height="6.2" fill="#000"/>
<rect x="65" y="633.2" width="4.8" height="6.2" fill="#000"/>
<line x1="60.4" y1="572" x2="68" y2="572" stroke="#222" stroke-width="1.0" stroke-linecap="butt"/>
<rect x="80.7" y="520.1" width="4.2" height="5.6" fill="#c4c4c4" stroke="#333" stroke-width="1.0"/>
<rect x="80.7" y="584.2" width="4.2" height="5.6" fill="#c4c4c4" stroke="#333" stroke-width="1.0"/>
<rect x="78" y="614.1" width="4.2" height="5.6" fill="#c4c4c4" stroke="#333" stroke-width="1.0"/>
<rect x="84" y="614.1" width="4.2" height="5.6" fill="#c4c4c4" stroke="#333" stroke-width="1.0"/>
<rect x="80.7" y="625.7" width="4.2" height="5.6" fill="#c4c4c4" stroke="#333" stroke-width="1.0"/>
<rect x="80.7" y="639.2" width="4.2" height="5.6" fill="#fff" stroke="#333" stroke-width="1.0"/>
<line x1="82.8" y1="522.9" x2="82.8" y2="641.9" stroke="#555" stroke-width="1.0" stroke-linecap="butt"/>
<line x1="79" y1="522.9" x2="86.6" y2="522.9" stroke="#555" stroke-width="1.0" stroke-linecap="butt"/>
<line x1="79" y1="641.9" x2="86.6" y2="641.9" stroke="#555" stroke-width="1.0" stroke-linecap="butt"/>
<line x1="77.1" y1="617.2" x2="89.2" y2="617.2" stroke="#111" stroke-width="1.3" stroke-linecap="butt"/>
<rect x="109" y="649" width="11.5" height="16.6" rx="1" fill="#000"/>
<rect x="108.7" y="643.5" width="4.8" height="6.2" fill="#000"/>
<rect x="115.4" y="643.5" width="4.8" height="6.2" fill="#000"/>
<rect x="128.6" y="628.9" width="4.2" height="5.6" fill="#fff" stroke="#222" stroke-width="1.0"/>
<rect x="134.1" y="634.4" width="4.2" height="5.6" fill="#fff" stroke="#222" stroke-width="1.0"/>
<rect x="131.7" y="645.9" width="4.2" height="5.6" fill="#fff" stroke="#222" stroke-width="1.0"/>
<line x1="133.8" y1="631.7" x2="133.8" y2="648.7" stroke="#333" stroke-width="1.0" stroke-linecap="butt"/>
<line x1="130" y1="631.7" x2="137.6" y2="631.7" stroke="#333" stroke-width="1.0" stroke-linecap="butt"/>
<line x1="130" y1="648.7" x2="137.6" y2="648.7" stroke="#333" stroke-width="1.0" stroke-linecap="butt"/>
<line x1="127" y1="637.3" x2="139.5" y2="637.3" stroke="#111" stroke-width="1.3" stroke-linecap="butt"/>
<line x1="48.9" y1="511.5" x2="48.9" y2="667.3" stroke="#000" stroke-width="2" stroke-linecap="butt"/>
<line x1="44.4" y1="666.3" x2="175.7" y2="666.3" stroke="#000" stroke-width="2" stroke-linecap="butt"/>
<line x1="44" y1="511.5" x2="48.9" y2="511.5" stroke="#000" stroke-width="1.8" stroke-linecap="butt"/>
<line x1="44" y1="543.3" x2="48.9" y2="543.3" stroke="#000" stroke-width="1.8" stroke-linecap="butt"/>
<line x1="44" y1="575" x2="48.9" y2="575" stroke="#000" stroke-width="1.8" stroke-linecap="butt"/>
<line x1="44" y1="606.7" x2="48.9" y2="606.7" stroke="#000" stroke-width="1.8" stroke-linecap="butt"/>
<line x1="44" y1="638.3" x2="48.9" y2="638.3" stroke="#000" stroke-width="1.8" stroke-linecap="butt"/>
<line x1="66" y1="666.3" x2="66" y2="672.1" stroke="#000" stroke-width="1.8" stroke-linecap="butt"/>
<line x1="116" y1="666.3" x2="116" y2="672.1" stroke="#000" stroke-width="1.8" stroke-linecap="butt"/>
<text x="22.76" y="514.88" font-size="10.4" font-weight="bold" font-style="normal" fill="#000">5000</text>
<text x="22.76" y="546.68" font-size="10.4" font-weight="bold" font-style="normal" fill="#000">4000</text>
<text x="22.76" y="578.58" font-size="10.4" font-weight="bold" font-style="normal" fill="#000">3000</text>
<text x="22.76" y="610.25" font-size="10.4" font-weight="bold" font-style="normal" fill="#000">2000</text>
<text x="23.06" y="641.88" font-size="10.4" font-weight="bold" font-style="normal" fill="#000">1000</text>
<text x="36.66" y="669.55" font-size="10.4" font-weight="bold" font-style="normal" fill="#000">0</text>
<text x="63.5" y="681.12" font-size="10" font-weight="bold" font-style="normal" fill="#000">0</text>
<text x="114.2" y="681.12" font-size="10" font-weight="bold" font-style="normal" fill="#000">2</text>
<text x="78" y="693.58" font-size="10" font-weight="bold" font-style="normal" fill="#000" textLength="27.43" lengthAdjust="spacingAndGlyphs">Weeks</text>
<text x="0" y="0" font-size="8.72" font-weight="bold" font-style="normal" fill="#000" textLength="65.63" lengthAdjust="spacingAndGlyphs" transform="translate(13.22,611.66) rotate(-90)">CCL2 (pg/mL)</text>
<polyline points="64.7,551.3 64.7,512.6 83.9,512.6 83.9,516.7" fill="none" stroke="#000" stroke-width="2.2" stroke-linejoin="miter"/>
<text x="51.36" y="506.86" font-size="9.71" font-weight="bold" font-style="normal" fill="#000" textLength="40.8" lengthAdjust="spacingAndGlyphs"><tspan font-style="italic">P</tspan> = 0.007</text>
<text x="48.15" y="503.97" font-size="6" font-weight="bold" font-style="normal" fill="#000">*</text>
<polyline points="114.1,631 114.1,594.2 133.8,594.2 133.8,618.4" fill="none" stroke="#000" stroke-width="2.2" stroke-linejoin="miter"/>
<text x="101.56" y="588.55" font-size="9.86" font-weight="bold" font-style="normal" fill="#000" textLength="40.6" lengthAdjust="spacingAndGlyphs"><tspan font-style="italic">P</tspan> = 0.018</text>
<text x="98.35" y="585.57" font-size="6" font-weight="bold" font-style="normal" fill="#000">*</text>
<rect x="158" y="506.2" width="4.4" height="6.8" fill="#000"/>
<rect x="158.5" y="530.8" width="3.4" height="6.4" fill="#fff" stroke="#222" stroke-width="1"/>
<text x="165.7" y="511.93" font-size="6.67" font-weight="bold" font-style="normal" fill="#000" textLength="16.16" lengthAdjust="spacingAndGlyphs">Alive</text>
<text x="165.7" y="536.05" font-size="5.87" font-weight="bold" font-style="normal" fill="#000" textLength="15.08" lengthAdjust="spacingAndGlyphs">Dead</text>
<line x1="310.3" y1="568.9" x2="310.3" y2="660" stroke="#222" stroke-width="1.0" stroke-linecap="butt"/>
<polygon points="305.1,650.7 310,650.7 313,653.5 315.8,656.5 315.8,667.5 314.5,668.5 305.5,668.5 304.2,667.5 304.2,658 305.1,658" fill="#000"/>
<rect x="307.9" y="566.1" width="4.8" height="6.2" fill="#000"/>
<rect x="307.9" y="598.3" width="4.8" height="6.2" fill="#000"/>
<rect x="307.9" y="609.7" width="4.8" height="6.2" fill="#000"/>
<rect x="309.9" y="624.3" width="4.8" height="6.2" fill="#000"/>
<rect x="305.1" y="632.1" width="4.8" height="6.2" fill="#000"/>
<rect x="309.9" y="644.1" width="4.8" height="6.2" fill="#000"/>
<line x1="306.5" y1="568.9" x2="314.1" y2="568.9" stroke="#222" stroke-width="1.0" stroke-linecap="butt"/>
<rect x="326.5" y="622.1" width="4.2" height="5.6" fill="#fff" stroke="#222" stroke-width="1.0"/>
<rect x="323.9" y="634" width="4.2" height="5.6" fill="#fff" stroke="#222" stroke-width="1.0"/>
<rect x="328.9" y="634" width="4.2" height="5.6" fill="#fff" stroke="#222" stroke-width="1.0"/>
<rect x="323.2" y="652.5" width="4.2" height="5.6" fill="#fff" stroke="#222" stroke-width="1.0"/>
<rect x="325.4" y="659.6" width="4.2" height="5.6" fill="#fff" stroke="#222" stroke-width="1.0"/>
<rect x="329.4" y="659.6" width="4.2" height="5.6" fill="#fff" stroke="#222" stroke-width="1.0"/>
<line x1="328.8" y1="624.9" x2="328.8" y2="662" stroke="#333" stroke-width="1.0" stroke-linecap="butt"/>
<line x1="325" y1="624.9" x2="332.6" y2="624.9" stroke="#333" stroke-width="1.0" stroke-linecap="butt"/>
<line x1="325" y1="662" x2="332.6" y2="662" stroke="#333" stroke-width="1.0" stroke-linecap="butt"/>
<line x1="322.5" y1="646.5" x2="334.4" y2="646.5" stroke="#111" stroke-width="1.3" stroke-linecap="butt"/>
<rect x="352.7" y="657.3" width="11.3" height="10.3" rx="1" fill="#000"/>
<rect x="371.4" y="660.2" width="4.2" height="5.6" fill="#fff" stroke="#222" stroke-width="1.0"/>
<rect x="374.4" y="660.2" width="4.2" height="5.6" fill="#fff" stroke="#222" stroke-width="1.0"/>
<rect x="377.1" y="660.2" width="4.2" height="5.6" fill="#fff" stroke="#222" stroke-width="1.0"/>
<line x1="371" y1="663" x2="382" y2="663" stroke="#111" stroke-width="1.3" stroke-linecap="butt"/>
<line x1="295.2" y1="513.4" x2="295.2" y2="667.5" stroke="#000" stroke-width="2" stroke-linecap="butt"/>
<line x1="290.8" y1="666.5" x2="428.3" y2="666.5" stroke="#000" stroke-width="2" stroke-linecap="butt"/>
<line x1="290.8" y1="513.4" x2="295.2" y2="513.4" stroke="#000" stroke-width="1.8" stroke-linecap="butt"/>
<line x1="290.8" y1="564.2" x2="295.2" y2="564.2" stroke="#000" stroke-width="1.8" stroke-linecap="butt"/>
<line x1="290.8" y1="615.9" x2="295.2" y2="615.9" stroke="#000" stroke-width="1.8" stroke-linecap="butt"/>
<line x1="319.6" y1="666.5" x2="319.6" y2="672.3" stroke="#000" stroke-width="1.8" stroke-linecap="butt"/>
<line x1="367" y1="666.5" x2="367" y2="672.3" stroke="#000" stroke-width="1.8" stroke-linecap="butt"/>
<text x="264.76" y="516.78" font-size="10.4" font-weight="bold" font-style="normal" fill="#000">15000</text>
<text x="264.76" y="567.58" font-size="10.4" font-weight="bold" font-style="normal" fill="#000">10000</text>
<text x="269.96" y="619.28" font-size="10.4" font-weight="bold" font-style="normal" fill="#000">5000</text>
<text x="281.06" y="669.95" font-size="10.4" font-weight="bold" font-style="normal" fill="#000">0</text>
<text x="317.1" y="681.83" font-size="10" font-weight="bold" font-style="normal" fill="#000">0</text>
<text x="364.8" y="681.83" font-size="10" font-weight="bold" font-style="normal" fill="#000">2</text>
<text x="329.4" y="696.17" font-size="10" font-weight="bold" font-style="normal" fill="#000" textLength="27.43" lengthAdjust="spacingAndGlyphs">Weeks</text>
<text x="0" y="0" font-size="8.82" font-weight="bold" font-style="normal" fill="#000" textLength="73.41" lengthAdjust="spacingAndGlyphs" transform="translate(254.99,619.06) rotate(-90)">CXCL9 (pg/mL)</text>
<polyline points="310.7,541 310.7,519 328.8,519 328.8,604.1" fill="none" stroke="#000" stroke-width="2.2" stroke-linejoin="miter"/>
<text x="305.96" y="513.15" font-size="9.86" font-weight="bold" font-style="normal" fill="#000" textLength="40.86" lengthAdjust="spacingAndGlyphs"><tspan font-style="italic">P</tspan> = 0.272</text>
<polyline points="359.1,648.9 359.1,627.3 376.7,627.3 376.7,649.6" fill="none" stroke="#000" stroke-width="2.2" stroke-linejoin="miter"/>
<text x="341.55" y="621.95" font-size="9.86" font-weight="bold" font-style="normal" fill="#000" textLength="39.76" lengthAdjust="spacingAndGlyphs"><tspan font-style="italic">P</tspan> = 0.601</text>
<rect x="399.5" y="507.6" width="4.4" height="6.8" fill="#000"/>
<rect x="400" y="531.1" width="3.4" height="6.4" fill="#fff" stroke="#222" stroke-width="1"/>
<text x="407.2" y="513.33" font-size="6.67" font-weight="bold" font-style="normal" fill="#000" textLength="16.16" lengthAdjust="spacingAndGlyphs">Alive</text>
<text x="407.2" y="536.35" font-size="5.87" font-weight="bold" font-style="normal" fill="#000" textLength="15.08" lengthAdjust="spacingAndGlyphs">Dead</text>
<line x1="552.7" y1="559.3" x2="552.7" y2="660" stroke="#222" stroke-width="1.0" stroke-linecap="butt"/>
<rect x="547" y="648.6" width="11.3" height="19.9" rx="1" fill="#000"/>
<rect x="550.3" y="556.2" width="4.8" height="6.2" fill="#000"/>
<rect x="550.3" y="597.9" width="4.8" height="6.2" fill="#000"/>
<rect x="547.3" y="616.4" width="4.8" height="6.2" fill="#000"/>
<rect x="553.3" y="616.4" width="4.8" height="6.2" fill="#000"/>
<rect x="546.8" y="620.4" width="4.8" height="6.2" fill="#000"/>
<rect x="553.8" y="620.4" width="4.8" height="6.2" fill="#000"/>
<rect x="550.3" y="624.9" width="4.8" height="6.2" fill="#000"/>
<rect x="544.1" y="636.7" width="4.8" height="6.2" fill="#000"/>
<rect x="556.4" y="635.3" width="4.8" height="6.2" fill="#000"/>
<rect x="547.4" y="640.9" width="4.8" height="6.2" fill="#000"/>
<rect x="553.3" y="644.1" width="4.8" height="6.2" fill="#000"/>
<line x1="548.9" y1="559.3" x2="556.5" y2="559.3" stroke="#222" stroke-width="1.0" stroke-linecap="butt"/>
<line x1="546.8" y1="652.4" x2="559" y2="652.4" stroke="#111" stroke-width="1.3" stroke-linecap="butt"/>
<rect x="569.4" y="552.4" width="4.2" height="5.6" fill="#fff" stroke="#222" stroke-width="1.0"/>
<rect x="569.4" y="614.4" width="4.2" height="5.6" fill="#fff" stroke="#222" stroke-width="1.0"/>
<rect x="565.9" y="643.2" width="4.2" height="5.6" fill="#fff" stroke="#222" stroke-width="1.0"/>
<rect x="572.4" y="643.2" width="4.2" height="5.6" fill="#fff" stroke="#222" stroke-width="1.0"/>
<rect x="567.9" y="647.4" width="4.2" height="5.6" fill="#fff" stroke="#222" stroke-width="1.0"/>
<rect x="572.9" y="648.2" width="4.2" height="5.6" fill="#fff" stroke="#222" stroke-width="1.0"/>
<rect x="570.4" y="649.7" width="4.2" height="5.6" fill="#fff" stroke="#222" stroke-width="1.0"/>
<rect x="564.9" y="646.7" width="4.2" height="5.6" fill="#fff" stroke="#222" stroke-width="1.0"/>
<line x1="571.5" y1="554.8" x2="571.5" y2="650" stroke="#333" stroke-width="1.0" stroke-linecap="butt"/>
<line x1="567.7" y1="554.8" x2="575.3" y2="554.8" stroke="#333" stroke-width="1.0" stroke-linecap="butt"/>
<line x1="567.7" y1="650" x2="575.3" y2="650" stroke="#333" stroke-width="1.0" stroke-linecap="butt"/>
<line x1="565" y1="646.7" x2="578" y2="646.7" stroke="#111" stroke-width="1.3" stroke-linecap="butt"/>
<line x1="603.4" y1="652.8" x2="603.4" y2="660" stroke="#222" stroke-width="1.0" stroke-linecap="butt"/>
<polygon points="597,660 602,660 602,655 609.3,655 609.3,667 608.5,669.5 606,670.3 600,670.3 597.5,669.5 597,667" fill="#000"/>
<rect x="601" y="649.7" width="4.8" height="6.2" fill="#000"/>
<line x1="599.6" y1="652.8" x2="607.2" y2="652.8" stroke="#222" stroke-width="1.0" stroke-linecap="butt"/>
<rect x="619.9" y="626.8" width="4.2" height="5.6" fill="#fff" stroke="#222" stroke-width="1.0"/>
<rect x="623.1" y="632.7" width="4.2" height="5.6" fill="#fff" stroke="#222" stroke-width="1.0"/>
<rect x="617.2" y="638.9" width="4.2" height="5.6" fill="#fff" stroke="#222" stroke-width="1.0"/>
<line x1="622.4" y1="629.6" x2="622.4" y2="641.7" stroke="#333" stroke-width="1.0" stroke-linecap="butt"/>
<line x1="618.6" y1="629.6" x2="626.2" y2="629.6" stroke="#333" stroke-width="1.0" stroke-linecap="butt"/>
<line x1="618.6" y1="641.7" x2="626.2" y2="641.7" stroke="#333" stroke-width="1.0" stroke-linecap="butt"/>
<line x1="616" y1="636.3" x2="629" y2="636.3" stroke="#111" stroke-width="1.3" stroke-linecap="butt"/>
<line x1="536.5" y1="514.4" x2="536.5" y2="668.5" stroke="#000" stroke-width="2" stroke-linecap="butt"/>
<line x1="532" y1="667.5" x2="672.7" y2="667.5" stroke="#000" stroke-width="2" stroke-linecap="butt"/>
<line x1="532" y1="514.4" x2="536.5" y2="514.4" stroke="#000" stroke-width="1.8" stroke-linecap="butt"/>
<line x1="532" y1="552.7" x2="536.5" y2="552.7" stroke="#000" stroke-width="1.8" stroke-linecap="butt"/>
<line x1="532" y1="591" x2="536.5" y2="591" stroke="#000" stroke-width="1.8" stroke-linecap="butt"/>
<line x1="532" y1="629.3" x2="536.5" y2="629.3" stroke="#000" stroke-width="1.8" stroke-linecap="butt"/>
<line x1="562.2" y1="667.5" x2="562.2" y2="673.3" stroke="#000" stroke-width="1.8" stroke-linecap="butt"/>
<line x1="612.8" y1="667.5" x2="612.8" y2="673.3" stroke="#000" stroke-width="1.8" stroke-linecap="butt"/>
<text x="511.36" y="517.65" font-size="10.4" font-weight="bold" font-style="normal" fill="#000">2000</text>
<text x="511.36" y="556.08" font-size="10.4" font-weight="bold" font-style="normal" fill="#000">1500</text>
<text x="511.36" y="594.38" font-size="10.4" font-weight="bold" font-style="normal" fill="#000">1000</text>
<text x="516.56" y="632.68" font-size="10.4" font-weight="bold" font-style="normal" fill="#000">500</text>
<text x="525.06" y="670.85" font-size="10.4" font-weight="bold" font-style="normal" fill="#000">0</text>
<text x="561.2" y="683.52" font-size="10" font-weight="bold" font-style="normal" fill="#000">0</text>
<text x="610.9" y="683.52" font-size="10" font-weight="bold" font-style="normal" fill="#000">2</text>
<text x="572.9" y="697.27" font-size="10" font-weight="bold" font-style="normal" fill="#000" textLength="27.43" lengthAdjust="spacingAndGlyphs">Weeks</text>
<text x="0" y="0" font-size="8.41" font-weight="bold" font-style="normal" fill="#000" textLength="79.11" lengthAdjust="spacingAndGlyphs" transform="translate(503,624.76) rotate(-90)">CXCL10 (pg/mL)</text>
<polyline points="552.7,542.7 552.7,521.7 571.7,521.7 571.7,539.3" fill="none" stroke="#000" stroke-width="2.2" stroke-linejoin="miter"/>
<text x="548.55" y="515.75" font-size="9.86" font-weight="bold" font-style="normal" fill="#000" textLength="34.81" lengthAdjust="spacingAndGlyphs"><tspan font-style="italic">P</tspan> = 0.17</text>
<polyline points="603.6,640.7 603.6,588.9 622.1,588.9 622.1,617" fill="none" stroke="#000" stroke-width="2.2" stroke-linejoin="miter"/>
<text x="590.56" y="582.94" font-size="10.43" font-weight="bold" font-style="normal" fill="#000" textLength="40.66" lengthAdjust="spacingAndGlyphs"><tspan font-style="italic">P</tspan> = 0.009</text>
<text x="587.35" y="579.57" font-size="6" font-weight="bold" font-style="normal" fill="#000">*</text>
<rect x="649.5" y="508.3" width="4.4" height="6.8" fill="#000"/>
<rect x="650" y="533.5" width="3.4" height="6.4" fill="#fff" stroke="#222" stroke-width="1"/>
<text x="657.2" y="514.03" font-size="6.67" font-weight="bold" font-style="normal" fill="#000" textLength="16.16" lengthAdjust="spacingAndGlyphs">Alive</text>
<text x="657.2" y="538.75" font-size="5.87" font-weight="bold" font-style="normal" fill="#000" textLength="15.08" lengthAdjust="spacingAndGlyphs">Dead</text>
<line x1="64.3" y1="849" x2="64.3" y2="860" stroke="#222" stroke-width="1.0" stroke-linecap="butt"/>
<polygon points="62,857.5 66.9,857.5 66.9,863.2 69.7,863.2 69.7,881.5 67.6,887 61.3,887 59.2,881.5 59.2,863.2 62,863.2" fill="#000"/>
<rect x="59.2" y="842.6" width="4.8" height="6.2" fill="#000"/>
<rect x="64.5" y="844.6" width="4.8" height="6.2" fill="#000"/>
<rect x="80.2" y="765" width="4.2" height="5.6" fill="#fff" stroke="#222" stroke-width="1.0"/>
<rect x="77.1" y="855.8" width="4.2" height="5.6" fill="#fff" stroke="#222" stroke-width="1.0"/>
<rect x="83.1" y="857.2" width="4.2" height="5.6" fill="#fff" stroke="#222" stroke-width="1.0"/>
<rect x="77.1" y="872.7" width="4.2" height="5.6" fill="#fff" stroke="#222" stroke-width="1.0"/>
<rect x="83.1" y="874.8" width="4.2" height="5.6" fill="#fff" stroke="#222" stroke-width="1.0"/>
<rect x="79.9" y="877.5" width="4.2" height="5.6" fill="#fff" stroke="#222" stroke-width="1.0"/>
<line x1="82.5" y1="767.5" x2="82.5" y2="880" stroke="#333" stroke-width="1.0" stroke-linecap="butt"/>
<line x1="78.7" y1="767.5" x2="86.3" y2="767.5" stroke="#333" stroke-width="1.0" stroke-linecap="butt"/>
<line x1="78.7" y1="880" x2="86.3" y2="880" stroke="#333" stroke-width="1.0" stroke-linecap="butt"/>
<line x1="76.5" y1="868.4" x2="88" y2="868.4" stroke="#111" stroke-width="1.3" stroke-linecap="butt"/>
<line x1="112.3" y1="874" x2="112.3" y2="878" stroke="#222" stroke-width="1.0" stroke-linecap="butt"/>
<polygon points="106.3,878 113,878 113,875.1 118.7,875.1 118.7,884 117,886.4 108,886.4 106.3,884" fill="#000"/>
<rect x="110" y="868.5" width="4.8" height="6.2" fill="#000"/>
<rect x="124.6" y="870.3" width="4.2" height="5.6" fill="#fff" stroke="#222" stroke-width="1.0"/>
<rect x="131.3" y="872.7" width="4.2" height="5.6" fill="#fff" stroke="#222" stroke-width="1.0"/>
<rect x="127.9" y="876.2" width="4.2" height="5.6" fill="#fff" stroke="#222" stroke-width="1.0"/>
<line x1="124.6" y1="875.8" x2="134.5" y2="875.8" stroke="#111" stroke-width="1.3" stroke-linecap="butt"/>
<line x1="49.2" y1="732.5" x2="49.2" y2="884.8" stroke="#000" stroke-width="2" stroke-linecap="butt"/>
<line x1="44.5" y1="883.8" x2="176" y2="883.8" stroke="#000" stroke-width="2" stroke-linecap="butt"/>
<line x1="44.5" y1="732.5" x2="49.2" y2="732.5" stroke="#000" stroke-width="1.8" stroke-linecap="butt"/>
<line x1="44.5" y1="762.1" x2="49.2" y2="762.1" stroke="#000" stroke-width="1.8" stroke-linecap="butt"/>
<line x1="44.5" y1="792.8" x2="49.2" y2="792.8" stroke="#000" stroke-width="1.8" stroke-linecap="butt"/>
<line x1="44.5" y1="823.4" x2="49.2" y2="823.4" stroke="#000" stroke-width="1.8" stroke-linecap="butt"/>
<line x1="44.5" y1="853.5" x2="49.2" y2="853.5" stroke="#000" stroke-width="1.8" stroke-linecap="butt"/>
<line x1="73.6" y1="883.8" x2="73.6" y2="889.6" stroke="#000" stroke-width="1.8" stroke-linecap="butt"/>
<line x1="120.9" y1="883.8" x2="120.9" y2="889.6" stroke="#000" stroke-width="1.8" stroke-linecap="butt"/>
<text x="23.66" y="735.88" font-size="10.4" font-weight="bold" font-style="normal" fill="#000">2500</text>
<text x="23.66" y="765.35" font-size="10.4" font-weight="bold" font-style="normal" fill="#000">2000</text>
<text x="23.66" y="796.18" font-size="10.4" font-weight="bold" font-style="normal" fill="#000">1500</text>
<text x="23.66" y="826.78" font-size="10.4" font-weight="bold" font-style="normal" fill="#000">1000</text>
<text x="28.86" y="856.88" font-size="10.4" font-weight="bold" font-style="normal" fill="#000">500</text>
<text x="36.26" y="887.05" font-size="10.4" font-weight="bold" font-style="normal" fill="#000">0</text>
<text x="71.7" y="897.42" font-size="10" font-weight="bold" font-style="normal" fill="#000">0</text>
<text x="118.9" y="897.42" font-size="10" font-weight="bold" font-style="normal" fill="#000">2</text>
<text x="83" y="910.17" font-size="10" font-weight="bold" font-style="normal" fill="#000" textLength="27.43" lengthAdjust="spacingAndGlyphs">Weeks</text>
<text x="0" y="0" font-size="9.85" font-weight="bold" font-style="normal" fill="#000" textLength="77.65" lengthAdjust="spacingAndGlyphs" transform="translate(15.74,841.36) rotate(-90)">CXCL11 (pg/mL)</text>
<polyline points="65.1,828 65.1,738.1 82.2,738.1 82.2,754.8" fill="none" stroke="#000" stroke-width="2.2" stroke-linejoin="miter"/>
<text x="61.15" y="732.86" font-size="9.71" font-weight="bold" font-style="normal" fill="#000" textLength="39.56" lengthAdjust="spacingAndGlyphs"><tspan font-style="italic">P</tspan> = 0.312</text>
<polyline points="112.3,858.2 112.3,837.8 130,837.8 130,859.6" fill="none" stroke="#000" stroke-width="2.2" stroke-linejoin="miter"/>
<text x="98.15" y="832.36" font-size="9.57" font-weight="bold" font-style="normal" fill="#000" textLength="39.81" lengthAdjust="spacingAndGlyphs"><tspan font-style="italic">P</tspan> = 0.026</text>
<text x="94.95" y="829.57" font-size="6" font-weight="bold" font-style="normal" fill="#000">*</text>
<rect x="154.5" y="728.3" width="4.4" height="6.8" fill="#000"/>
<rect x="155" y="753.5" width="3.4" height="6.4" fill="#fff" stroke="#222" stroke-width="1"/>
<text x="162.2" y="734.03" font-size="6.67" font-weight="bold" font-style="normal" fill="#000" textLength="16.16" lengthAdjust="spacingAndGlyphs">Alive</text>
<text x="162.2" y="758.75" font-size="5.87" font-weight="bold" font-style="normal" fill="#000" textLength="15.08" lengthAdjust="spacingAndGlyphs">Dead</text>
<line x1="303.4" y1="761.2" x2="303.4" y2="875" stroke="#222" stroke-width="1.0" stroke-linecap="butt"/>
<rect x="301.3" y="868.9" width="4.2" height="5.1" rx="1" fill="#000"/>
<ellipse cx="303.3" cy="878.7" rx="6.1" ry="7.2" fill="#000"/>
<rect x="300.8" y="758.3" width="4.8" height="6.2" fill="#000"/>
<rect x="301" y="845.7" width="4.8" height="6.2" fill="#000"/>
<rect x="301" y="859.1" width="4.8" height="6.2" fill="#000"/>
<line x1="299.6" y1="761.2" x2="307.2" y2="761.2" stroke="#222" stroke-width="1.0" stroke-linecap="butt"/>
<rect x="319.2" y="867.5" width="4.2" height="5.6" fill="#fff" stroke="#222" stroke-width="1.0"/>
<rect x="316.4" y="875.4" width="4.2" height="5.6" fill="#fff" stroke="#222" stroke-width="1.0"/>
<rect x="322.4" y="875.4" width="4.2" height="5.6" fill="#fff" stroke="#222" stroke-width="1.0"/>
<rect x="317.4" y="879.6" width="4.2" height="5.6" fill="#fff" stroke="#222" stroke-width="1.0"/>
<rect x="322.9" y="879.6" width="4.2" height="5.6" fill="#fff" stroke="#222" stroke-width="1.0"/>
<rect x="319.9" y="877.7" width="4.2" height="5.6" fill="#fff" stroke="#222" stroke-width="1.0"/>
<line x1="321.5" y1="870.3" x2="321.5" y2="880" stroke="#333" stroke-width="1.0" stroke-linecap="butt"/>
<line x1="317.7" y1="870.3" x2="325.3" y2="870.3" stroke="#333" stroke-width="1.0" stroke-linecap="butt"/>
<line x1="317.7" y1="880" x2="325.3" y2="880" stroke="#333" stroke-width="1.0" stroke-linecap="butt"/>
<line x1="352.3" y1="848.9" x2="352.3" y2="866" stroke="#222" stroke-width="1.0" stroke-linecap="butt"/>
<polygon points="349,866 357,866 357,870 358.3,870 358.3,884 356,885.8 349,885.8 347,884 347,872 349,870" fill="#000"/>
<rect x="349.9" y="845.7" width="4.8" height="6.2" fill="#000"/>
<line x1="348.5" y1="848.9" x2="356.1" y2="848.9" stroke="#222" stroke-width="1.0" stroke-linecap="butt"/>
<rect x="365.5" y="879.6" width="4.2" height="5.6" fill="#fff" stroke="#222" stroke-width="1.0"/>
<rect x="368.9" y="879.6" width="4.2" height="5.6" fill="#fff" stroke="#222" stroke-width="1.0"/>
<rect x="372.1" y="879.6" width="4.2" height="5.6" fill="#fff" stroke="#222" stroke-width="1.0"/>
<line x1="287.6" y1="739.6" x2="287.6" y2="885.2" stroke="#000" stroke-width="2" stroke-linecap="butt"/>
<line x1="283.5" y1="884.2" x2="420.7" y2="884.2" stroke="#000" stroke-width="2" stroke-linecap="butt"/>
<line x1="283.5" y1="739.6" x2="287.6" y2="739.6" stroke="#000" stroke-width="1.8" stroke-linecap="butt"/>
<line x1="283.5" y1="787.9" x2="287.6" y2="787.9" stroke="#000" stroke-width="1.8" stroke-linecap="butt"/>
<line x1="283.5" y1="836.1" x2="287.6" y2="836.1" stroke="#000" stroke-width="1.8" stroke-linecap="butt"/>
<line x1="312.8" y1="884.2" x2="312.8" y2="890" stroke="#000" stroke-width="1.8" stroke-linecap="butt"/>
<line x1="361.1" y1="884.2" x2="361.1" y2="890" stroke="#000" stroke-width="1.8" stroke-linecap="butt"/>
<text x="258.16" y="742.98" font-size="10.4" font-weight="bold" font-style="normal" fill="#000">15000</text>
<text x="258.16" y="791.28" font-size="10.4" font-weight="bold" font-style="normal" fill="#000">10000</text>
<text x="263.36" y="839.48" font-size="10.4" font-weight="bold" font-style="normal" fill="#000">5000</text>
<text x="274.46" y="887.25" font-size="10.4" font-weight="bold" font-style="normal" fill="#000">0</text>
<text x="310.8" y="898.92" font-size="10" font-weight="bold" font-style="normal" fill="#000">0</text>
<text x="360" y="898.92" font-size="10" font-weight="bold" font-style="normal" fill="#000">2</text>
<text x="324.6" y="911.98" font-size="10" font-weight="bold" font-style="normal" fill="#000" textLength="27.43" lengthAdjust="spacingAndGlyphs">Weeks</text>
<text x="0" y="0" font-size="8.82" font-weight="bold" font-style="normal" fill="#000" textLength="70.53" lengthAdjust="spacingAndGlyphs" transform="translate(249.99,838.26) rotate(-90)">CCL17 (pg/mL)</text>
<polyline points="302.2,752.1 302.2,743.6 321.2,743.6 321.2,854.8" fill="none" stroke="#000" stroke-width="2.2" stroke-linejoin="miter"/>
<text x="299.75" y="737.55" font-size="9.86" font-weight="bold" font-style="normal" fill="#000" textLength="39.31" lengthAdjust="spacingAndGlyphs"><tspan font-style="italic">P</tspan> = 0.337</text>
<polyline points="352.8,836.2 352.8,796.8 371.8,796.8 371.8,872.9" fill="none" stroke="#000" stroke-width="2.2" stroke-linejoin="miter"/>
<text x="340.95" y="791.55" font-size="9.86" font-weight="bold" font-style="normal" fill="#000" textLength="39.21" lengthAdjust="spacingAndGlyphs"><tspan font-style="italic">P</tspan> = 0.011</text>
<text x="337.55" y="788.57" font-size="6" font-weight="bold" font-style="normal" fill="#000">*</text>
<rect x="395.5" y="728.9" width="4.4" height="6.8" fill="#000"/>
<rect x="396" y="753.5" width="3.4" height="6.4" fill="#fff" stroke="#222" stroke-width="1"/>
<text x="403.2" y="734.63" font-size="6.67" font-weight="bold" font-style="normal" fill="#000" textLength="16.16" lengthAdjust="spacingAndGlyphs">Alive</text>
<text x="403.2" y="758.75" font-size="5.87" font-weight="bold" font-style="normal" fill="#000" textLength="15.08" lengthAdjust="spacingAndGlyphs">Dead</text>
</svg>
</body></html>
